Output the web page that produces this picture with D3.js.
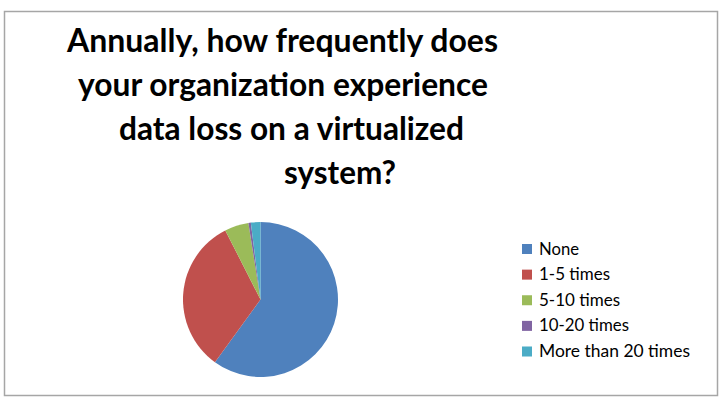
<!DOCTYPE html>
<html>
<head>
<meta charset="utf-8">
<script src="https://cdn.jsdelivr.net/npm/d3@7"></script>
<style>
  html, body { margin: 0; padding: 0; background: #fff; }
  svg { display: block; }
</style>
</head>
<body>
<div id="chart"></div>
<script>
// chart data
const categories = ['None', '1-5 times', '5-10 times', '10-20 times', 'More than 20 times'];
const shares = [60, 32.5, 5, 0.5, 2];
const colors = ['#4F81BD', '#C0504D', '#9BBB59', '#8064A2', '#4BACC6'];
const titleLines = [
  'Annually, how frequently does',
  'your organization experience',
  'data loss on a virtualized',
  'system?'
];

const width = 724, height = 404;

const svg = d3.select('#chart')
  .append('svg')
  .attr('width', width)
  .attr('height', height);

// outer frame
svg.append('rect')
  .attr('x', 4.5)
  .attr('y', 11.5)
  .attr('width', 713)
  .attr('height', 384)
  .attr('fill', '#fff')
  .attr('stroke', '#a6a6a6')
  .attr('stroke-width', 1.5);

// title - each line sits a bit off-centre like the original
const titleLeft = [67, 78, 119, 284];
const titleRight = [498, 488, 464, 396];
const titleY = d3.scalePoint().domain(d3.range(titleLines.length)).range([52, 184]);

svg.append('g')
  .selectAll('text')
  .data(titleLines)
  .join('text')
  .attr('x', (d, i) => titleLeft[i])
  .attr('y', (d, i) => titleY(i))
  .attr('textLength', (d, i) => titleRight[i] - titleLeft[i])
  .attr('lengthAdjust', 'spacingAndGlyphs')
  .attr('font-family', 'Lato, "Open Sans", sans-serif')
  .attr('font-weight', 700)
  .attr('font-size', 32.5)
  .attr('fill', '#000')
  .text(d => d);

// pie
const radius = 77.5;
const pie = d3.pie().sort(null).value(d => d.value);
const arc = d3.arc().innerRadius(0).outerRadius(radius);
const pieData = categories.map((c, i) => ({ name: c, value: shares[i] }));
const color = d3.scaleOrdinal().domain(categories).range(colors);

svg.append('g')
  .attr('transform', 'translate(260.5,299.5)')
  .selectAll('path')
  .data(pie(pieData))
  .join('path')
  .attr('d', arc)
  .attr('fill', d => color(d.data.name));

// legend
const legendY = d3.scalePoint().domain(categories).range([249, 351.5]);
const legendWidths = [40, 71, 81, 90, 151];

const legend = svg.append('g')
  .selectAll('g')
  .data(categories)
  .join('g')
  .attr('transform', d => `translate(522,${legendY(d)})`);

legend.append('rect')
  .attr('x', 0)
  .attr('y', -5)
  .attr('width', 10)
  .attr('height', 10)
  .attr('fill', d => color(d));

legend.append('text')
  .attr('x', 17)
  .attr('y', 5.5)
  .attr('textLength', (d, i) => legendWidths[i])
  .attr('lengthAdjust', 'spacingAndGlyphs')
  .attr('font-family', 'Lato, "Open Sans", sans-serif')
  .attr('font-size', 16.5)
  .attr('fill', '#000')
  .text(d => d);
</script>
</body>
</html>
